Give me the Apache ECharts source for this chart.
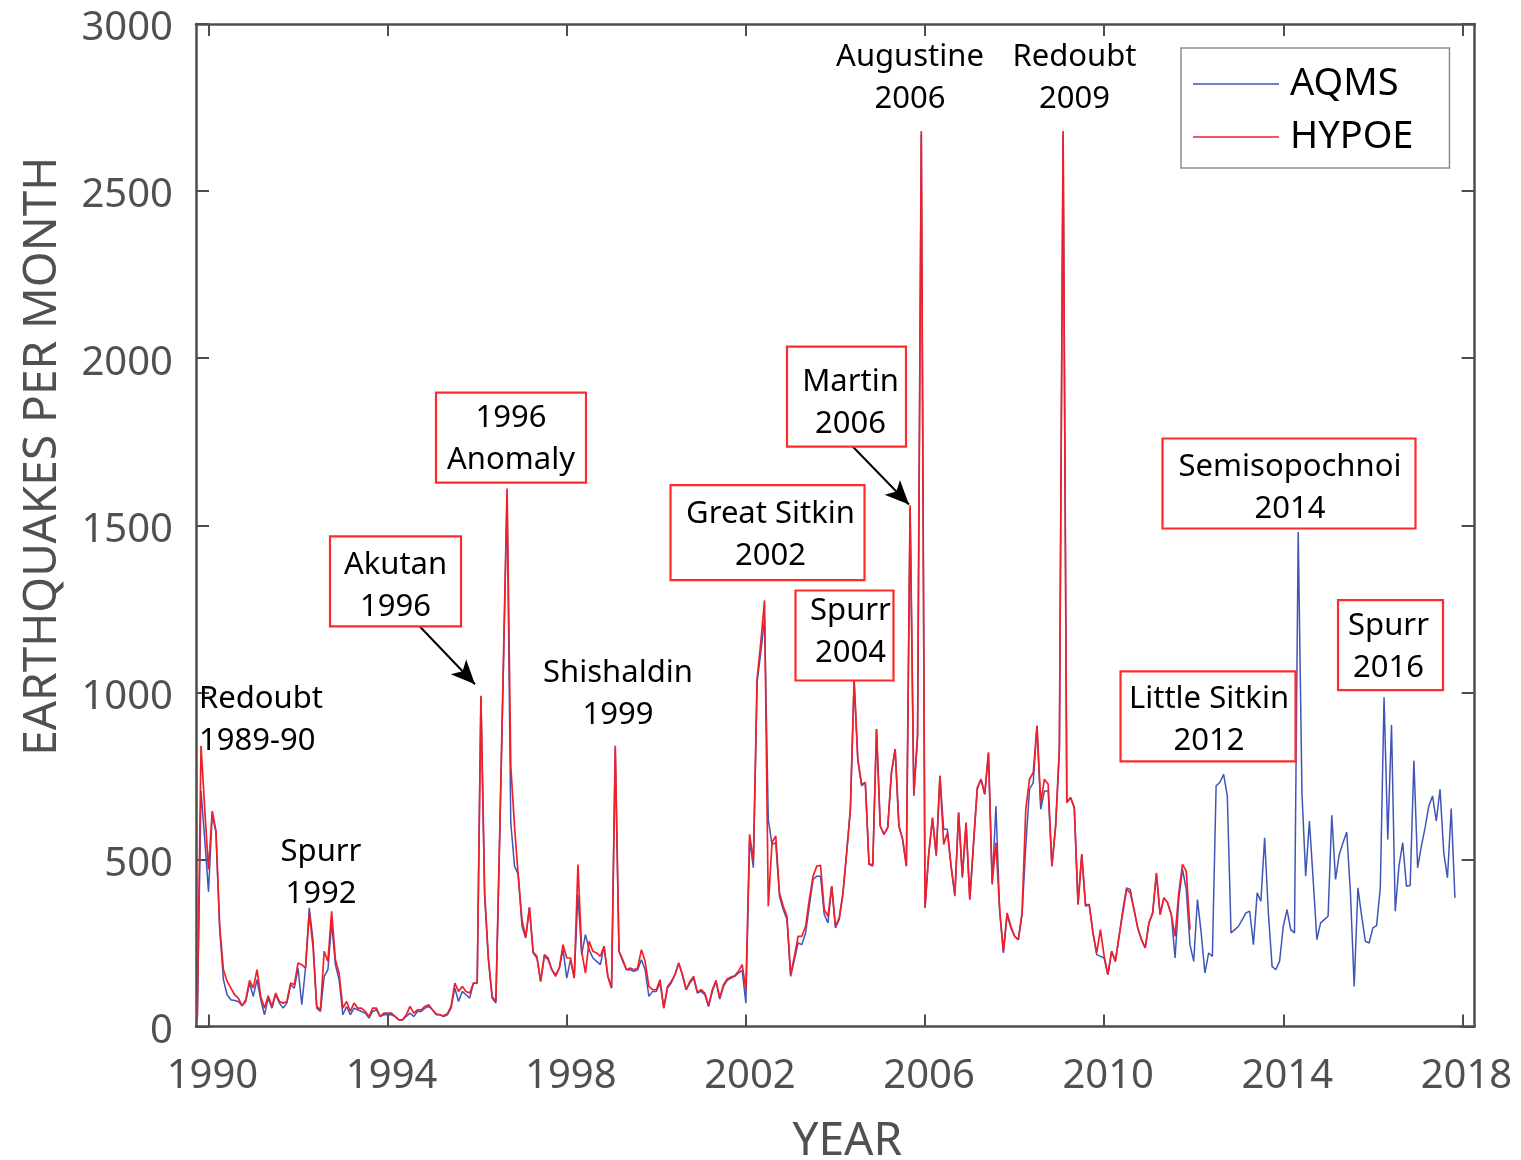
<!DOCTYPE html>
<html>
<head>
<meta charset="utf-8">
<title>Earthquakes per month</title>
<script src="https://cdn.jsdelivr.net/npm/echarts@6/dist/echarts.min.js"></script>
<style>
  html, body { margin: 0; padding: 0; background: #ffffff; }
  #chart { width: 1521px; height: 1160px; }
</style>
</head>
<body>
<div id="chart"></div>
<script>
// Monthly earthquake counts, first sample October 1989
const startYear = 1989.75;

const aqms = [
  20, 705, 560, 403, 635, 580, 290, 140, 95, 80,
  78, 75, 62, 75, 130, 90, 140, 80, 35, 85,
  55, 95, 70, 55, 70, 125, 115, 175, 65, 175,
  355, 260, 55, 45, 150, 170, 310, 185, 140, 35,
  60, 35, 55, 50, 45, 40, 25, 45, 50, 30,
  35, 35, 35, 30, 20, 20, 30, 40, 30, 45,
  45, 55, 60, 50, 35, 35, 30, 35, 55, 115,
  75, 105, 95, 85, 130, 130, 985, 390, 200, 85,
  70, 550, 1060, 1590, 610, 480, 455, 300, 265, 355,
  220, 205, 135, 210, 200, 170, 155, 175, 230, 145,
  200, 145, 395, 215, 275, 230, 205, 195, 185, 240,
  150, 115, 830, 225, 195, 170, 170, 165, 170, 200,
  170, 90, 105, 105, 130, 55, 115, 130, 155, 190,
  155, 110, 130, 145, 100, 105, 95, 60, 105, 135,
  82, 120, 138, 145, 150, 160, 168, 70, 560, 475,
  1030, 1120, 1220, 620, 545, 550, 390, 350, 320, 150,
  200, 250, 245, 280, 360, 440, 450, 450, 335, 310,
  420, 295, 320, 395, 520, 650, 1030, 795, 720, 730,
  485, 480, 890, 600, 575, 595, 760, 830, 600, 560,
  480, 1550, 690, 870, 2670, 355, 515, 620, 510, 750,
  590, 590, 475, 390, 640, 445, 605, 380, 545, 710,
  740, 695, 820, 425, 660, 345, 220, 335, 295, 270,
  260, 335, 540, 710, 730, 900, 650, 705, 705, 480,
  600, 830, 2670, 670, 685, 655, 365, 515, 360, 365,
  280, 215, 210, 205, 155, 225, 195, 270, 350, 415,
  410, 350, 295, 260, 235, 310, 340, 455, 335, 385,
  370, 335, 205, 380, 470, 410, 245, 195, 380, 280,
  160, 220, 210, 720, 730, 755, 690, 280, 290, 300,
  320, 340, 345, 245, 400, 375, 565, 340, 180, 170,
  195, 300, 350, 290, 280, 1480, 700, 450, 615, 440,
  260, 310, 320, 330, 632, 440, 515, 550, 582, 400,
  120, 415, 330, 255, 250, 295, 302, 415, 985, 560,
  902, 345, 480, 550, 420, 422, 795, 475, 540, 595,
  660, 690, 615, 710, 520, 445, 652, 385
];

const hypoe = [
  30, 840, 650, 470, 645, 585, 300, 170, 135, 115,
  95, 85, 62, 80, 138, 115, 170, 90, 55, 92,
  60, 100, 75, 70, 75, 130, 125, 190, 185, 175,
  340, 240, 60, 50, 225, 195, 345, 200, 160, 55,
  75, 45, 70, 55, 55, 45, 30, 55, 55, 30,
  40, 40, 40, 30, 20, 20, 35, 60, 40, 50,
  50, 60, 65, 50, 38, 35, 32, 38, 60, 130,
  105, 120, 105, 100, 130, 130, 990, 400, 205, 90,
  75, 560, 1080, 1610, 780, 600, 450, 320, 267, 357,
  223, 210, 135, 215, 205, 170, 150, 175, 245, 205,
  205, 145, 485, 225, 160, 255, 225, 220, 210, 240,
  150, 115, 840, 225, 200, 170, 175, 170, 175, 230,
  195, 120, 110, 110, 140, 55, 120, 135, 155, 190,
  155, 110, 135, 150, 102, 110, 100, 62, 110, 138,
  85, 125, 142, 148, 152, 165, 185, 110, 575, 495,
  1040, 1150, 1275, 360, 550, 570, 400, 360, 330, 155,
  210, 270, 270, 300, 380, 450, 480, 482, 350, 330,
  420, 300, 325, 400, 520, 650, 1040, 800, 725, 730,
  485, 485, 890, 600, 575, 595, 760, 830, 600, 560,
  480, 1560, 695, 870, 2680, 355, 520, 625, 515, 750,
  545, 580, 480, 395, 640, 450, 610, 380, 550, 715,
  740, 695, 820, 430, 550, 350, 225, 340, 300, 270,
  260, 340, 650, 740, 760, 900, 670, 740, 725, 480,
  600, 830, 2680, 670, 685, 655, 365, 515, 365, 365,
  280, 220, 290, 210, 155, 225, 195, 270, 340, 410,
  400, 350, 295, 260, 235, 310, 340, 460, 335, 385,
  370, 335, 270, 400, 485, 465, 290
];

const yearTicks = [1990, 1994, 1998, 2002, 2006, 2010, 2014, 2018];
const countTicks = [0, 500, 1000, 1500, 2000, 2500, 3000];

// Eruption labels: text-centre anchor in [year, count]; boxed ones carry [w, h, dx, dy]
const annotations = [
  { lines: ['Redoubt', '1989-90'], at: [1989.788, 916], align: 'left' },
  { lines: ['Spurr', '1992'], at: [1992.512, 458] },
  { lines: ['Akutan', '1996'], at: [1994.176, 1317], box: [131, 90, 0, -5] },
  { lines: ['1996', 'Anomaly'], at: [1996.755, 1759], box: [150, 90, 0, -1] },
  { lines: ['Shishaldin', '1999'], at: [1999.144, 994] },
  { lines: ['Great Sitkin', '2002'], at: [2002.55, 1469], box: [194, 95, -3, -3] },
  { lines: ['Spurr', '2004'], at: [2004.336, 1179], box: [98, 90, -6, 3] },
  { lines: ['Martin', '2006'], at: [2004.336, 1864], box: [119, 100, -4, -7] },
  { lines: ['Augustine', '2006'], at: [2005.665, 2838] },
  { lines: ['Redoubt', '2009'], at: [2009.338, 2838] },
  { lines: ['Little Sitkin', '2012'], at: [2012.342, 916], box: [175, 90, -1, -4] },
  { lines: ['Semisopochnoi', '2014'], at: [2014.15, 1610], box: [253, 90, -1, -5] },
  { lines: ['Spurr', '2016'], at: [2016.35, 1135], box: [105, 90, 2, -2] }
];

// Pointer arrows [from, to] in [year, count]
const arrows = [
  [[1994.634, 1209], [1995.951, 1024]],
  [[2004.347, 1741], [2005.642, 1562]]
];

const toSeries = arr => arr.map((v, i) => [startYear + i / 12, v]);

const FONT = 'Noto Sans';
const AXIS_GREY = '#4d4d4d';
const LABEL_GREY = '#505050';
const X_MIN = 1989.721, X_MAX = 2018.272;

const chart = echarts.init(document.getElementById('chart'), null, { renderer: 'canvas' });

const tickStyle = { color: AXIS_GREY, width: 2 };
const axisLineStyle = { color: AXIS_GREY, width: 2.5 };

chart.setOption({
  animation: false,
  backgroundColor: '#ffffff',
  grid: {
    left: 196, right: 46.4, top: 24, bottom: 133.5,
    containLabel: false, outerBoundsMode: 'none'
  },
  legend: {
    orient: 'vertical',
    left: 1181,
    top: 48,
    padding: [17, 36, 12, 12],
    icon: 'rect',
    itemWidth: 86,
    itemHeight: 1.6,
    itemGap: 15,
    backgroundColor: '#ffffff',
    borderColor: '#8c8c8c',
    borderWidth: 1.5,
    borderRadius: 0,
    textStyle: { fontFamily: FONT, fontSize: 38, color: '#000000', padding: [0, 0, 0, 6] },
    data: ['AQMS', 'HYPOE']
  },
  xAxis: [
    {
      type: 'value', min: X_MIN, max: X_MAX, position: 'bottom',
      name: 'YEAR', nameLocation: 'middle', nameGap: 92,
      nameTextStyle: { fontFamily: FONT, fontSize: 46, color: LABEL_GREY, padding: [0, 0, 0, 24] },
      axisLine: { show: true, onZero: false, lineStyle: axisLineStyle },
      axisTick: { show: true, inside: true, length: 12, customValues: yearTicks, lineStyle: tickStyle },
      axisLabel: {
        show: true, customValues: yearTicks, margin: 30,
        fontFamily: FONT, fontSize: 40, color: LABEL_GREY, padding: [0, 0, 0, 8],
        formatter: v => String(Math.round(v))
      },
      splitLine: { show: false }
    },
    {
      type: 'value', min: X_MIN, max: X_MAX, position: 'top',
      axisLine: { show: true, onZero: false, lineStyle: axisLineStyle },
      axisTick: { show: true, inside: true, length: 12, customValues: yearTicks, lineStyle: tickStyle },
      axisLabel: { show: false },
      splitLine: { show: false }
    }
  ],
  yAxis: [
    {
      type: 'value', min: 0, max: 3000, interval: 500, position: 'left',
      name: 'EARTHQUAKES PER MONTH', nameLocation: 'middle', nameRotate: 90, nameGap: 130,
      nameTextStyle: { fontFamily: FONT, fontSize: 46, color: LABEL_GREY, padding: [0, 0, 0, 138] },
      axisLine: { show: true, onZero: false, lineStyle: axisLineStyle },
      axisTick: { show: true, inside: true, length: 13, lineStyle: tickStyle },
      axisLabel: {
        show: true, margin: 23, fontFamily: FONT, fontSize: 40, color: LABEL_GREY,
        verticalAlign: 'top', lineHeight: 10,
        formatter: v => String(v)
      },
      splitLine: { show: false }
    },
    {
      type: 'value', min: 0, max: 3000, interval: 500, position: 'right',
      axisLine: { show: true, onZero: false, lineStyle: axisLineStyle },
      axisTick: { show: true, inside: true, length: 13, lineStyle: tickStyle },
      axisLabel: { show: false },
      splitLine: { show: false }
    }
  ],
  series: [
    {
      name: 'AQMS', type: 'line', xAxisIndex: 0, yAxisIndex: 0,
      data: toSeries(aqms), symbol: 'none', showSymbol: false,
      lineStyle: { color: '#3f55b8', width: 1.5 },
      itemStyle: { color: '#3f55b8' },
      clip: true, z: 2
    },
    {
      name: 'HYPOE', type: 'line', xAxisIndex: 0, yAxisIndex: 0,
      data: toSeries(hypoe), symbol: 'none', showSymbol: false,
      lineStyle: { color: '#f0202a', width: 1.7 },
      itemStyle: { color: '#f0202a' },
      clip: true, z: 3,
      markLine: {
        silent: true,
        symbol: ['none', 'arrow'],
        symbolSize: [16, 24],
        label: { show: false },
        lineStyle: { color: '#000000', width: 2, type: 'solid' },
        emphasis: { disabled: true },
        data: arrows.map(a => [{ coord: a[0] }, { coord: a[1] }])
      }
    }
  ]
});

// Eruption labels, placed from their data anchors
const graphics = [];
annotations.forEach(a => {
  const p = chart.convertToPixel({ seriesIndex: 0 }, a.at);
  if (a.box) {
    const [w, h, dx, dy] = a.box;
    graphics.push({
      type: 'rect', z: 100,
      shape: { x: p[0] + dx - w / 2, y: p[1] + dy - h / 2, width: w, height: h },
      style: { fill: '#ffffff', stroke: '#ff2b2b', lineWidth: 2.2 }
    });
  }
  graphics.push({
    type: 'text', z: 101,
    x: p[0], y: p[1],
    style: {
      text: a.lines.join('\n'),
      fontFamily: FONT, fontSize: 31, lineHeight: 42,
      fill: '#000000',
      align: a.align || 'center',
      verticalAlign: 'middle'
    }
  });
});
chart.setOption({ graphic: graphics });
</script>
</body>
</html>
